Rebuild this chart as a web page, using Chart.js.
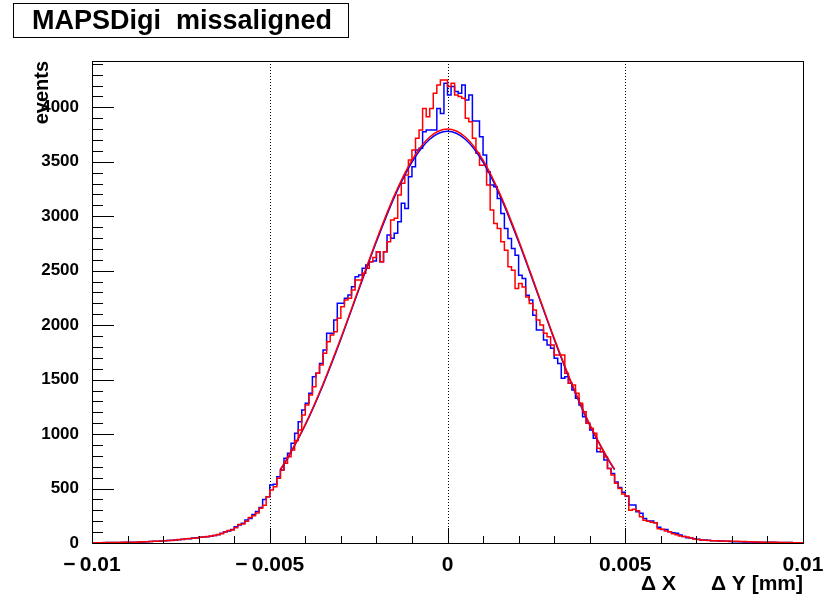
<!DOCTYPE html>
<html>
<head>
<meta charset="utf-8">
<script src="https://cdn.jsdelivr.net/npm/chart.js@4.4.1/dist/chart.umd.min.js"></script>
<style>
  body { margin: 0; background: #fff; }
  canvas { display: block; }
</style>
</head>
<body>
<canvas id="c" width="835" height="597"></canvas>
<script>
// histogram: 200 bins from -0.01 to 0.01 (counts)
const X_MIN = -0.01;
const X_MAX = 0.01;
const BIN_W = 0.0001;

const blueHist = [
  2, 2, 3, 3, 3, 4, 4, 4, 5, 5,
  6, 7, 7, 8, 9, 10, 12, 14, 15, 17,
  18, 20, 22, 25, 27, 30, 35, 38, 40, 45,
  49, 52, 55, 58, 62, 68, 75, 90, 104, 110,
  125, 150, 165, 181, 211, 225, 262, 290, 325, 400,
  425, 532, 540, 609, 670, 777, 823, 915, 1007, 1114,
  1221, 1282, 1374, 1527, 1558, 1649, 1772, 1925, 1925, 2047,
  2200, 2200, 2246, 2277, 2353, 2445, 2460, 2522, 2552, 2582,
  2590, 2674, 2582, 2674, 2827, 2797, 2843, 2950, 3118, 3072,
  3363, 3454, 3608, 3623, 3776, 3791, 3791, 3791, 3990, 3944,
  4220, 4113, 4190, 4144, 4129, 4205, 4067, 4113, 3874, 3874,
  3730, 3561, 3408, 3286, 3271, 3163, 3025, 2887, 2795, 2703,
  2642, 2458, 2428, 2274, 2230, 2090, 1955, 1955, 1864, 1818,
  1787, 1695, 1649, 1512, 1527, 1466, 1405, 1328, 1267, 1160,
  1099, 1037, 961, 838, 838, 762, 685, 639, 560, 510,
  465, 430, 349, 349, 288, 272, 226, 202, 202, 187,
  144, 125, 125, 104, 95, 89, 73, 60, 49, 45,
  40, 34, 28, 28, 25, 21, 21, 18, 18, 16,
  14, 12, 12, 11, 10, 10, 9, 8, 8, 7,
  7, 6, 6, 5, 5, 5, 4, 4, 3, 3
];

const redHist = [
  2, 3, 3, 3, 4, 4, 4, 5, 5, 6,
  6, 7, 8, 8, 9, 11, 12, 13, 15, 17,
  19, 20, 23, 24, 28, 31, 33, 38, 42, 44,
  47, 52, 56, 60, 65, 70, 78, 85, 100, 115,
  120, 140, 170, 175, 200, 235, 250, 275, 320, 346,
  425, 487, 517, 594, 670, 731, 792, 854, 940, 1037,
  1175, 1267, 1359, 1435, 1558, 1634, 1741, 1848, 1909, 1940,
  2063, 2170, 2231, 2246, 2323, 2414, 2414, 2476, 2522, 2582,
  2620, 2674, 2582, 2674, 2766, 2965, 2981, 3195, 3302, 3378,
  3516, 3608, 3715, 3791, 3990, 3914, 3990, 4128, 4204, 4250,
  4250, 4190, 4221, 4113, 4098, 4083, 3899, 3868, 3715, 3577,
  3469, 3469, 3286, 3056, 2933, 2887, 2765, 2688, 2535, 2504,
  2336, 2382, 2351, 2259, 2198, 2140, 2047, 2001, 1925, 1894,
  1818, 1726, 1726, 1726, 1558, 1466, 1450, 1374, 1282, 1206,
  1099, 1053, 1007, 869, 838, 790, 685, 624, 548, 500,
  450, 431, 300, 310, 295, 240, 210, 200, 190, 187,
  130, 127, 110, 104, 85, 75, 65, 60, 55, 45,
  37, 32, 28, 26, 24, 21, 20, 19, 18, 17,
  18, 16, 15, 14, 13, 12, 11, 10, 9, 8,
  7, 7, 6, 6, 5, 5, 4, 4, 3, 3
];

// gaussian fits, read at these x positions
const fitX = [-0.0047, -0.0045, -0.004, -0.0035, -0.003, -0.0025, -0.002, -0.0015, -0.001, -0.0005,
  0, 0.0005, 0.001, 0.0015, 0.002, 0.0025, 0.003, 0.0035, 0.004, 0.0045, 0.0047];
const fitBlue = [673, 777, 1083, 1452, 1871, 2320, 2765, 3171, 3496, 3707,
  3780, 3707, 3496, 3171, 2765, 2320, 1871, 1452, 1083, 777, 673];
const fitRed = [677, 781, 1089, 1460, 1881, 2332, 2780, 3187, 3515, 3727,
  3800, 3727, 3515, 3187, 2780, 2332, 1881, 1460, 1089, 781, 677];

const X_TICKS = [-0.01, -0.005, 0, 0.005, 0.01];
const X_TICK_LABELS = ["\u2212\u20090.01", "\u2212\u20090.005", "0", "0.005", "0.01"];
const X_MINOR = 0.001;
const Y_MAX = 4425;
const Y_TICKS = [0, 500, 1000, 1500, 2000, 2500, 3000, 3500, 4000];
const Y_MINOR = 100;

const FONT = "'Liberation Sans', Arial, sans-serif";

function histPoints(vals) {
  const pts = vals.map((v, i) => ({ x: X_MIN + i * BIN_W, y: v }));
  pts.push({ x: X_MAX, y: vals[vals.length - 1] });
  return pts;
}
const fitPoints = (ys) => fitX.map((x, i) => ({ x, y: ys[i] }));

const rootFrame = {
  id: "rootFrame",
  beforeDatasetsDraw(chart) {
    const { ctx, chartArea: a, scales: { x } } = chart;
    ctx.save();
    ctx.strokeStyle = "#000";
    ctx.lineWidth = 1;
    ctx.setLineDash([1, 2]);
    X_TICKS.slice(1, -1).forEach((v) => {
      const px = Math.round(x.getPixelForValue(v)) + 0.5;
      ctx.beginPath();
      ctx.moveTo(px, a.top);
      ctx.lineTo(px, a.bottom);
      ctx.stroke();
    });
    ctx.restore();
  },
  afterDatasetsDraw(chart) {
    const { ctx, chartArea: a, scales: { x, y } } = chart;
    ctx.save();
    ctx.strokeStyle = "#000";
    ctx.lineWidth = 1;
    ctx.strokeRect(a.left + 0.5, a.top + 0.5, a.right - a.left, a.bottom - a.top);
    ctx.beginPath();
    // y ticks, drawn inwards
    for (let v = 0; v <= Y_MAX; v += Y_MINOR) {
      const py = Math.round(y.getPixelForValue(v)) + 0.5;
      const len = v % 500 === 0 ? 22 : 11;
      ctx.moveTo(a.left, py);
      ctx.lineTo(a.left + len, py);
    }
    // x ticks
    for (let k = 0; k <= 20; k++) {
      const v = X_MIN + k * X_MINOR;
      const px = Math.round(x.getPixelForValue(v)) + 0.5;
      const len = k % 5 === 0 ? 15 : 7;
      ctx.moveTo(px, a.bottom);
      ctx.lineTo(px, a.bottom - len);
    }
    ctx.stroke();
    ctx.restore();
  },
  afterDraw(chart) {
    const { ctx, chartArea: a } = chart;
    ctx.save();
    ctx.strokeStyle = "#000";
    // title box
    ctx.fillStyle = "#fff";
    ctx.fillRect(13, 3, 335, 34);
    ctx.strokeRect(13.5, 3.5, 335, 34);
    ctx.fillStyle = "#000";
    ctx.font = "bold 27px " + FONT;
    ctx.textAlign = "left";
    ctx.textBaseline = "alphabetic";
    ctx.fillText("MAPSDigi  missaligned", 32, 29);
    // x title
    ctx.font = "bold 21px " + FONT;
    ctx.textAlign = "right";
    ctx.fillText("\u0394 X      \u0394 Y [mm]", a.right, 590);
    // y title
    ctx.font = "bold 20px " + FONT;
    ctx.translate(48, a.top);
    ctx.rotate(-Math.PI / 2);
    ctx.textAlign = "right";
    ctx.fillText("events", 0, 0);
    ctx.restore();
  }
};

new Chart(document.getElementById("c"), {
  type: "line",
  data: {
    datasets: [
      {
        label: "fit red",
        data: fitPoints(fitRed),
        borderColor: "#ff0000",
        borderWidth: 1.5,
        pointRadius: 0,
        cubicInterpolationMode: "monotone",
        fill: false,
        order: 0,
      },
      {
        label: "fit blue",
        data: fitPoints(fitBlue),
        borderColor: "#0000ff",
        borderWidth: 1.5,
        pointRadius: 0,
        cubicInterpolationMode: "monotone",
        fill: false,
        order: 1,
      },
      {
        label: "red",
        data: histPoints(redHist),
        borderColor: "#ff0000",
        borderWidth: 1.5,
        pointRadius: 0,
        stepped: "after",
        fill: false,
        order: 2,
      },
      {
        label: "blue",
        data: histPoints(blueHist),
        borderColor: "#0000ff",
        borderWidth: 1.5,
        pointRadius: 0,
        stepped: "after",
        fill: false,
        order: 3,
      },
    ],
  },
  options: {
    responsive: false,
    animation: false,
    devicePixelRatio: 1,
    layout: { padding: { left: 0, right: 32, top: 61, bottom: 0 } },
    plugins: { legend: { display: false }, tooltip: { enabled: false } },
    scales: {
      x: {
        type: "linear",
        min: X_MIN,
        max: X_MAX,
        afterBuildTicks: (s) => { s.ticks = X_TICKS.map((v) => ({ value: v })); },
        afterFit: (s) => { s.height = 54; },
        ticks: {
          callback: (v, i) => X_TICK_LABELS[i],
          font: { family: FONT, size: 21, weight: "bold" },
          color: "#000",
          padding: 2,
          maxRotation: 0,
          autoSkip: false,
        },
        grid: { display: false },
        border: { display: false },
      },
      y: {
        type: "linear",
        min: 0,
        max: Y_MAX,
        afterBuildTicks: (s) => { s.ticks = Y_TICKS.map((v) => ({ value: v })); },
        afterFit: (s) => { s.width = 92; },
        ticks: {
          callback: (v) => String(v),
          font: { family: FONT, size: 17, weight: "bold" },
          color: "#000",
          padding: 5,
          autoSkip: false,
        },
        grid: { display: false },
        border: { display: false },
      },
    },
  },
  plugins: [rootFrame],
});
</script>
</body>
</html>
